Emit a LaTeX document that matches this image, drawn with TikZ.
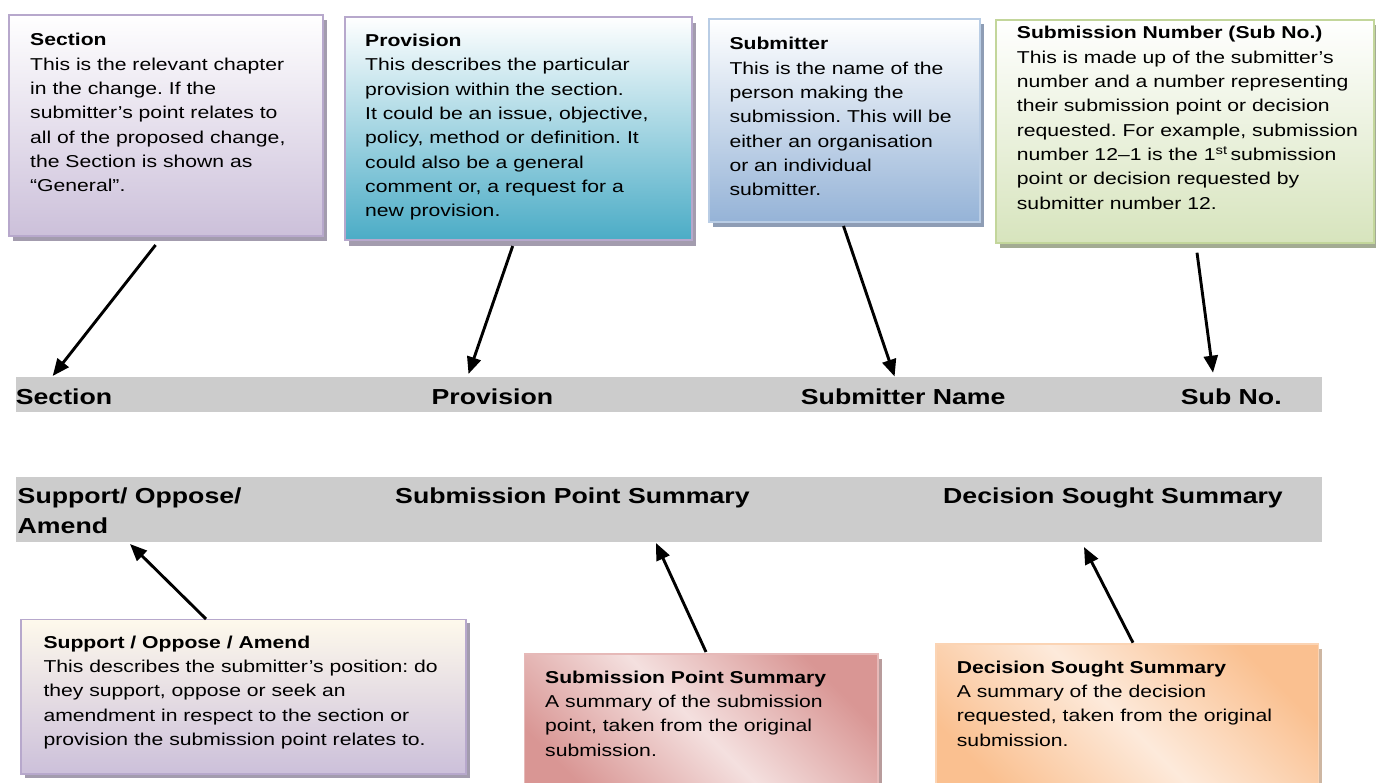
\documentclass[tikz,border=0pt]{standalone}
\usepackage{fontspec}
\setmainfont{Liberation Sans}[FakeStretch=1.23]
\usetikzlibrary{shadows,arrows.meta}
\frenchspacing
\definecolor{barg}{HTML}{CCCCCC}
\definecolor{lavb}{HTML}{B7A8CC}
\definecolor{lavf}{HTML}{CCC0DA}
\definecolor{lavs}{HTML}{A39CAE}
\definecolor{teal}{HTML}{4BACC6}
\definecolor{blf}{HTML}{95B3D7}
\definecolor{blb}{HTML}{B9CDE5}
\definecolor{bls}{HTML}{8E9DB5}
\definecolor{grf}{HTML}{D7E4BD}
\definecolor{grb}{HTML}{C3D69B}
\definecolor{grs}{HTML}{A3AB93}
\definecolor{crm}{HTML}{FEF9EC}
\definecolor{rsd}{HTML}{D99694}
\definecolor{rsl}{HTML}{F4E0DF}
\definecolor{rsb}{HTML}{E6B9B8}
\definecolor{rss}{HTML}{B89C9C}
\definecolor{ord}{HTML}{FAC090}
\definecolor{orl}{HTML}{FDEADB}
\definecolor{orb}{HTML}{FBD4B4}
\definecolor{ors}{HTML}{CDB6A2}
\newcommand\bodyfnt{\fontsize{17.2}{24.3}\selectfont\frenchspacing}
\newcommand\barfnt{\fontsize{21.7}{30}\selectfont\bfseries}
\begin{document}
\begin{tikzpicture}[x=1pt,y=-1pt,
  box/.style={draw, line width=1.8pt, inner sep=0pt, anchor=north west},
  txt/.style={anchor=base west, inner sep=0pt},
  bar/.style={fill=barg, inner sep=0pt, anchor=north west},
  arr/.style={line width=2.9pt, -{Triangle[length=17pt,width=14pt]}}]
\useasboundingbox (0,0) rectangle (1376,783);

% top boxes
\node[box, draw=lavb, top color=white, bottom color=lavf,
  minimum width=313.4pt, minimum height=221pt,
  drop shadow={shadow xshift=4pt, shadow yshift=-5pt, fill=lavs, opacity=1}]
  (secbox) at (8.3,14) {};
\node[box, draw=lavb, top color=white, bottom color=teal,
  minimum width=347pt, minimum height=223pt,
  drop shadow={shadow xshift=4pt, shadow yshift=-6pt, fill=lavs, opacity=1}]
  (provbox) at (344,16) {};
\node[box, draw=blb, top color=white, bottom color=blf,
  minimum width=270.7pt, minimum height=202.7pt,
  drop shadow={shadow xshift=4pt, shadow yshift=-5pt, fill=bls, opacity=1}]
  (subbox) at (708.3,18.3) {};
\node[box, draw=grb, top color=white, bottom color=grf,
  minimum width=378pt, minimum height=222.7pt,
  drop shadow={shadow xshift=4pt, shadow yshift=-5pt, fill=grs, opacity=1}]
  (numbox) at (995,19.3) {};

% bottom boxes
\node[box, draw=lavb, top color=crm, bottom color=lavf,
  minimum width=445pt, minimum height=154.5pt,
  drop shadow={shadow xshift=4pt, shadow yshift=-4pt, fill=lavs, opacity=1}]
  (supbox) at (20,618.5) {};
\node[box, draw=rsb, top color=rsd, bottom color=rsd, middle color=rsl, shading angle=-45,
  minimum width=353.5pt, minimum height=150pt,
  drop shadow={shadow xshift=4pt, shadow yshift=-5pt, fill=rss, opacity=1}]
  (spsbox) at (523.5,653) {};
\node[box, draw=orb, top color=ord, bottom color=ord, middle color=orl, shading angle=-45,
  minimum width=382.5pt, minimum height=160pt,
  drop shadow={shadow xshift=4pt, shadow yshift=-5pt, fill=ors, opacity=1}]
  (dssbox) at (935,642.7) {};

% box texts
\node[txt] (sectxt) at (30,46) {\parbox[t]{400pt}{\bodyfnt\raggedright
  \textbf{Section}\\
  This is the relevant chapter\\
  in the change. If the\\
  submitter’s point relates to\\
  all of the proposed change,\\
  the Section is shown as\\
  “General”.}};
\node[txt] (provtxt) at (365,46.7) {\parbox[t]{400pt}{\bodyfnt\raggedright
  \textbf{Provision}\\
  This describes the particular\\
  provision within the section.\\
  It could be an issue, objective,\\
  policy, method or definition. It\\
  could also be a general\\
  comment or, a request for a\\
  new provision.}};
\node[txt] (subtxt) at (729.3,50) {\parbox[t]{400pt}{\bodyfnt\raggedright
  \textbf{Submitter}\\
  This is the name of the\\
  person making the\\
  submission. This will be\\
  either an organisation\\
  or an individual\\
  submitter.}};
\node[txt] (numtxt) at (1016.7,39) {\parbox[t]{400pt}{\bodyfnt\raggedright
  \textbf{Submission Number (Sub No.)}\\
  This is made up of the submitter’s\\
  number and a number representing\\
  their submission point or decision\\
  requested. For example, submission\\
  number 12–1 is the 1\textsuperscript{st}\,submission\\
  point or decision requested by\\
  submitter number 12.}};
\node[txt] (suptxt) at (43.3,648.3) {\parbox[t]{440pt}{\bodyfnt\raggedright
  \textbf{Support / Oppose / Amend}\\
  This describes the submitter’s position: do\\
  they support, oppose or seek an\\
  amendment in respect to the section or\\
  provision the submission point relates to.}};
\node[txt] (spstxt) at (545,683.3) {\parbox[t]{400pt}{\bodyfnt\raggedright
  \textbf{Submission Point Summary}\\
  A summary of the submission\\
  point, taken from the original\\
  submission.}};
\node[txt] (dsstxt) at (956.7,673.3) {\parbox[t]{400pt}{\bodyfnt\raggedright
  \textbf{Decision Sought Summary}\\
  A summary of the decision\\
  requested, taken from the original\\
  submission.}};

% bars
\node[bar, minimum width=1306.4pt, minimum height=35pt] (bar1) at (15.6,376.7) {};
\node[bar, minimum width=1306.4pt, minimum height=65pt] (bar2) at (15.6,477) {};
\node[txt, font=\barfnt] (lsec) at (15.6,405) {Section};
\node[txt, font=\barfnt] (lprov) at (431.4,405) {Provision};
\node[txt, font=\barfnt] (lsub) at (800.7,405) {Submitter Name};
\node[txt, font=\barfnt] (lnum) at (1180.7,405) {Sub No.};
\node[txt] (lsup) at (17.5,503) {\parbox[t]{300pt}{\barfnt\raggedright Support/ Oppose/\\Amend}};
\node[txt, font=\barfnt] (lsps) at (395,503) {Submission Point Summary};
\node[txt, font=\barfnt] (ldss) at (943,503) {Decision Sought Summary};

% arrows
\coordinate (s1) at (155.6,245);  \coordinate (e1) at (52.7,376);
\coordinate (s2) at (512.7,246);  \coordinate (e2) at (468.5,374);
\coordinate (s3) at (843.5,226);  \coordinate (e3) at (894.6,376.5);
\coordinate (s4) at (1197,252.7); \coordinate (e4) at (1213,372.7);
\coordinate (s5) at (206,619);    \coordinate (e5) at (130,544);
\coordinate (s6) at (706,652);    \coordinate (e6) at (656,543);
\coordinate (s7) at (1133,642.7); \coordinate (e7) at (1084,547);
\draw[arr] (s1) -- (e1);
\draw[arr] (s2) -- (e2);
\draw[arr] (s3) -- (e3);
\draw[arr] (s4) -- (e4);
\draw[arr] (s5) -- (e5);
\draw[arr] (s6) -- (e6);
\draw[arr] (s7) -- (e7);
\end{tikzpicture}
\end{document}
